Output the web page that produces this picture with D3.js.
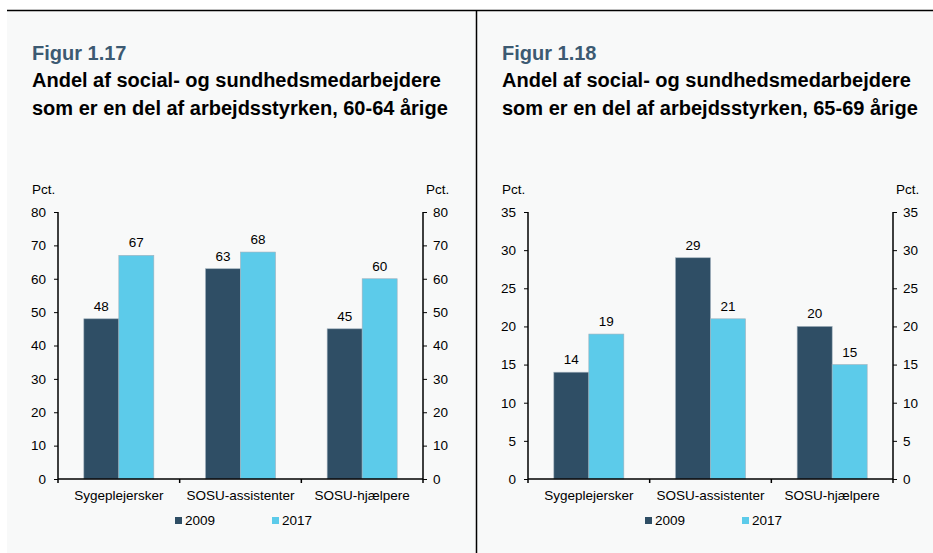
<!DOCTYPE html>
<html>
<head>
<meta charset="utf-8">
<script src="https://cdn.jsdelivr.net/npm/d3@7"></script>
<style>
  body { margin: 0; background: #ffffff; }
  svg { display: block; font-family: "Liberation Sans", Arial, sans-serif; }
</style>
</head>
<body>
<div id="chart"></div>
<script>
// data
const CATEGORIES = ["Sygeplejersker", "SOSU-assistenter", "SOSU-hjælpere"];
const SERIES = ["2009", "2017"];
const VALUES_6064 = [[48, 67], [63, 68], [45, 60]];
const VALUES_6569 = [[14, 19], [29, 21], [20, 15]];
const TICKS_6064 = [0, 10, 20, 30, 40, 50, 60, 70, 80];
const TICKS_6569 = [0, 5, 10, 15, 20, 25, 30, 35];
const FIG_NUMBERS = ["Figur 1.17", "Figur 1.18"];
const TITLE_LINES = [
    ["Andel af social- og sundhedsmedarbejdere", "som er en del af arbejdsstyrken, 60-64 årige"],
    ["Andel af social- og sundhedsmedarbejdere", "som er en del af arbejdsstyrken, 65-69 årige"]
];
const UNIT = "Pct.";

const WIDTH = 933, HEIGHT = 553;
const COLORS = ["#2f4e65", "#5ccbea"];
const FS = "13.5px";

const svg = d3.select("#chart").append("svg")
    .attr("width", WIDTH)
    .attr("height", HEIGHT);

// panel backgrounds + frame lines
svg.append("rect").attr("x", 7).attr("y", 10).attr("width", WIDTH - 7).attr("height", HEIGHT - 10)
    .attr("fill", "#f8f9f9");
svg.append("line").attr("x1", 7).attr("x2", WIDTH).attr("y1", 10.5).attr("y2", 10.5)
    .attr("stroke", "#000").attr("stroke-width", 1.5);
svg.append("line").attr("x1", 476.5).attr("x2", 476.5).attr("y1", 10).attr("y2", HEIGHT)
    .attr("stroke", "#000").attr("stroke-width", 1.5);

function drawPanel(offsetX, fig, titleLines, values, ticks) {
    const g = svg.append("g").attr("transform", "translate(" + offsetX + ",0)");

    g.append("text").attr("x", 32).attr("y", 60)
        .attr("font-size", "20px").attr("font-weight", "bold").attr("fill", "#3c5a72")
        .text(fig);
    titleLines.forEach((t, i) => {
        g.append("text").attr("x", 32).attr("y", 87 + i * 28)
            .attr("font-size", "20px").attr("font-weight", "bold").attr("fill", "#000")
            .text(t);
    });

    const left = 58, right = 423, top = 212, bottom = 479;
    const xScale = d3.scaleBand().domain(CATEGORIES).range([left, right]);
    const inner = d3.scaleBand().domain(SERIES).range([0, 70]);
    const yScale = d3.scaleLinear().domain([0, d3.max(ticks)]).range([bottom, top]);

    // bars
    CATEGORIES.forEach((c, ci) => {
        const gx = xScale(c) + xScale.bandwidth() / 2 - 35;
        SERIES.forEach((s, si) => {
            const v = values[ci][si];
            g.append("rect")
                .attr("x", gx + inner(s))
                .attr("y", yScale(v))
                .attr("width", inner.bandwidth())
                .attr("height", yScale(0) - yScale(v))
                .attr("fill", COLORS[si])
                .attr("stroke", "#9fb0bc")
                .attr("stroke-width", 0.6);
            g.append("text")
                .attr("x", gx + inner(s) + inner.bandwidth() / 2)
                .attr("y", yScale(v) - 8)
                .attr("text-anchor", "middle")
                .attr("font-size", FS)
                .text(v);
        });
    });

    // axes
    const yLeft = g.append("g").attr("transform", "translate(" + left + ",0)")
        .call(d3.axisLeft(yScale).tickValues(ticks).tickSize(4).tickPadding(8));
    const yRight = g.append("g").attr("transform", "translate(" + right + ",0)")
        .call(d3.axisRight(yScale).tickValues(ticks).tickSize(4).tickPadding(6));
    const xAxis = g.append("g").attr("transform", "translate(0," + bottom + ")")
        .call(d3.axisBottom(xScale).tickSize(0).tickPadding(11));
    [yLeft, yRight, xAxis].forEach(a => {
        a.selectAll("text").attr("font-size", FS).attr("font-family", null).attr("fill", "#000");
        a.selectAll("line").attr("stroke", "#000");
        a.select(".domain").attr("stroke", "#000").attr("stroke-width", 1.5);
    });
    yLeft.select(".domain").attr("d", "M" + 0 + "," + top + "V" + bottom);
    yRight.select(".domain").attr("d", "M" + 0 + "," + top + "V" + bottom);
    xAxis.select(".domain").attr("d", "M" + left + ",0H" + right);
    // category separator ticks
    g.selectAll(".sep").data(d3.range(CATEGORIES.length + 1)).enter()
        .append("line")
        .attr("x1", i => left + i * xScale.step())
        .attr("x2", i => left + i * xScale.step())
        .attr("y1", bottom).attr("y2", bottom + 4)
        .attr("stroke", "#000").attr("stroke-width", 1.5);

    g.append("text").attr("x", 32).attr("y", 194).attr("font-size", FS).text(UNIT);
    g.append("text").attr("x", 426).attr("y", 194).attr("font-size", FS).text(UNIT);

    // legend
    const legX = [175, 272];
    SERIES.forEach((s, si) => {
        g.append("rect").attr("x", legX[si]).attr("y", 517).attr("width", 7).attr("height", 7)
            .attr("fill", COLORS[si]);
        g.append("text").attr("x", legX[si] + 10).attr("y", 525).attr("font-size", FS).text(s);
    });
}

drawPanel(0, FIG_NUMBERS[0], TITLE_LINES[0], VALUES_6064, TICKS_6064);
drawPanel(470, FIG_NUMBERS[1], TITLE_LINES[1], VALUES_6569, TICKS_6569);
</script>
</body>
</html>
